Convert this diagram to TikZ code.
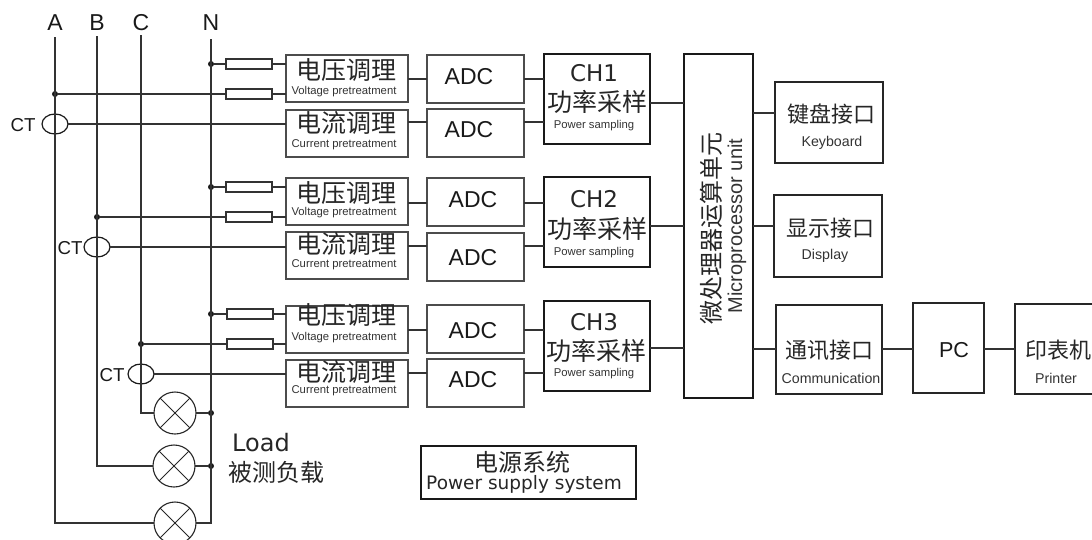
\documentclass[tikz,border=0pt]{standalone}
\usepackage{fontspec}
\setmainfont{Liberation Sans}
\newfontfamily\cjk{Noto Sans CJK SC}
\newfontfamily\dejavu{DejaVu Sans}
\usetikzlibrary{shapes.geometric}
\tikzset{
  wire/.style={line width=1.2pt,draw=black!80},
  vbox/.style={draw=black!70,line width=1.2pt,inner sep=0pt,outer sep=0pt,minimum width=122pt,minimum height=47pt},
  adcbox/.style={draw=black!70,line width=1.2pt,inner sep=0pt,outer sep=0pt,minimum width=97pt,minimum height=48pt},
  chbox/.style={draw=black!90,line width=1.3pt,inner sep=0pt,outer sep=0pt,minimum width=106pt,minimum height=90pt},
  portbox/.style={draw=black!85,line width=1.2pt,inner sep=0pt,outer sep=0pt,minimum width=108pt},
  res/.style={draw=black!80,line width=1.2pt,inner sep=0pt,outer sep=0pt,minimum width=46pt,minimum height=10pt},
  ctring/.style={ellipse,draw=black!90,line width=1.2pt,inner sep=0pt,outer sep=0pt,minimum width=26pt,minimum height=20pt},
  jdot/.style={circle,fill=black!90,inner sep=0pt,minimum size=6pt},
  lamp/.style={circle,draw=black!85,line width=1.1pt,inner sep=0pt,outer sep=0pt,minimum size=42pt,
    path picture={\draw[line width=1pt,draw=black!85] (path picture bounding box.north west) -- (path picture bounding box.south east)
      (path picture bounding box.north east) -- (path picture bounding box.south west);}},
  cntext/.style={inner sep=0pt,text=black!85,font=\cjk\fontsize{25}{25}\selectfont},
  cnport/.style={inner sep=0pt,text=black!85,font=\cjk\fontsize{22}{22}\selectfont},
  entiny/.style={inner sep=0pt,text=black!80,font=\fontsize{11.3}{12}\selectfont},
  ensmall/.style={inner sep=0pt,text=black!80,font=\fontsize{14.2}{15}\selectfont},
  latin/.style={inner sep=0pt,text=black!90,font=\fontsize{23}{24}\selectfont},
  djtext/.style={inner sep=0pt,text=black!85,font=\dejavu\fontsize{23}{24}\selectfont},
}
\begin{document}
\begin{tikzpicture}[x=1pt,y=-1pt]
\clip (0,0) rectangle (1092,539);

    \node[latin] (lblA) at (55,23) {A};
    \node[latin] (lblB) at (97,23) {B};
    \node[latin] (lblC) at (141,23) {C};
    \node[latin] (lblN) at (211,23) {N};

    \node[vbox] (v1) at (347,78.5) {};
    \node[vbox] (c1) at (347,133.5) {};
    \node[vbox] (v2) at (347,201.5) {};
    \node[vbox] (c2) at (347,255.5) {};
    \node[vbox] (v3) at (347,329.5) {};
    \node[vbox] (c3) at (347,383.5) {};

    \node[cntext] (v1cn) at (346,70) {电压调理};
    \node[entiny] (v1en) at (344,92) {Voltage pretreatment};
    \node[cntext] (c1cn) at (346,123) {电流调理};
    \node[entiny] (c1en) at (344,145) {Current pretreatment};
    \node[cntext] (v2cn) at (346,193) {电压调理};
    \node[entiny] (v2en) at (344,213) {Voltage pretreatment};
    \node[cntext] (c2cn) at (346,244) {电流调理};
    \node[entiny] (c2en) at (344,265) {Current pretreatment};
    \node[cntext] (v3cn) at (346,315) {电压调理};
    \node[entiny] (v3en) at (344,338) {Voltage pretreatment};
    \node[cntext] (c3cn) at (346,372) {电流调理};
    \node[entiny] (c3en) at (344,391) {Current pretreatment};

    \node[adcbox] (adc1) at (475.5,79) {};
    \node[adcbox] (adc2) at (475.5,133) {};
    \node[adcbox] (adc3) at (475.5,202) {};
    \node[adcbox] (adc4) at (475.5,257) {};
    \node[adcbox] (adc5) at (475.5,329) {};
    \node[adcbox] (adc6) at (475.5,383) {};

    \node[latin] (adc1t) at (469,77) {ADC};
    \node[latin] (adc2t) at (469,130) {ADC};
    \node[latin] (adc3t) at (473,200) {ADC};
    \node[latin] (adc4t) at (473,258) {ADC};
    \node[latin] (adc5t) at (473,331) {ADC};
    \node[latin] (adc6t) at (473,380) {ADC};

    \node[chbox] (ch1) at (597,99) {};
    \node[chbox] (ch2) at (597,222) {};
    \node[chbox] (ch3) at (597,346) {};

    \node[djtext] (ch1t) at (594,73) {CH1};
    \node[cntext] (ch1cn) at (597,102) {功率采样};
    \node[entiny] (ch1en) at (594,126) {Power sampling};
    \node[djtext] (ch2t) at (594,199) {CH2};
    \node[cntext] (ch2cn) at (597,229) {功率采样};
    \node[entiny] (ch2en) at (594,253) {Power sampling};
    \node[djtext] (ch3t) at (594,322) {CH3};
    \node[cntext] (ch3cn) at (596,351) {功率采样};
    \node[entiny] (ch3en) at (594,374) {Power sampling};

    \node[chbox,minimum width=69pt,minimum height=344pt] (mcu) at (718.5,226) {};
    \node[cntext,font=\cjk\fontsize{24}{24}\selectfont,rotate=90] (mcucn) at (711,228) {微处理器运算单元};
    \node[entiny,font=\fontsize{20}{20}\selectfont,rotate=90] (mcuen) at (737,226) {Microprocessor unit};

    \node[portbox,minimum height=81pt] (keyb) at (829,122.5) {};
    \node[portbox,minimum height=82pt] (disp) at (828,236) {};
    \node[portbox,minimum width=106pt,minimum height=89pt] (comm) at (829,349.5) {};
    \node[portbox,minimum width=71pt,minimum height=90pt] (pc) at (948.5,348) {};
    \node[portbox,minimum width=90pt,minimum height=90pt] (prn) at (1060,349) {};

    \node[cnport] (keybcn) at (831,114) {键盘接口};
    \node[ensmall] (keyben) at (832,143) {Keyboard};
    \node[cnport] (dispcn) at (830,228) {显示接口};
    \node[ensmall] (dispen) at (825,256) {Display};
    \node[cnport] (commcn) at (829,350) {通讯接口};
    \node[ensmall] (commen) at (831,378) {Communication};
    \node[latin,font=\fontsize{21.6}{22}\selectfont] (pct) at (954,350) {PC};
    \node[cnport] (prncn) at (1058,350) {印表机};
    \node[ensmall] (prnen) at (1056,378) {Printer};

    \node[res] (r1) at (249,64) {};
    \node[res] (r2) at (249,94) {};
    \node[res] (r3) at (249,187) {};
    \node[res] (r4) at (249,217) {};
    \node[res] (r5) at (250,314) {};
    \node[res] (r6) at (250,344) {};

    \node[jdot] (n1) at (211,64) {};
    \node[jdot] (a1) at (55,94) {};
    \node[jdot] (n2) at (211,187) {};
    \node[jdot] (b1) at (97,217) {};
    \node[jdot] (n3) at (211,314) {};
    \node[jdot] (c4) at (141,344) {};
    \node[jdot] (n4) at (211,413) {};
    \node[jdot] (n5) at (211,466) {};

    \node[ctring] (ct1) at (55,124) {};
    \node[ctring] (ct2) at (97,247) {};
    \node[ctring] (ct3) at (141,374) {};
    \node[latin,font=\fontsize{18.7}{19}\selectfont] (ct1t) at (23,125) {CT};
    \node[latin,font=\fontsize{18.7}{19}\selectfont] (ct2t) at (70,248) {CT};
    \node[latin,font=\fontsize{18.7}{19}\selectfont] (ct3t) at (112,375) {CT};

    \node[lamp] (lamp1) at (175,413) {};
    \node[lamp] (lamp2) at (174,466) {};
    \node[lamp] (lamp3) at (175,523) {};

    \node[djtext,font=\dejavu\fontsize{24}{24}\selectfont] (loadt) at (261,443) {Load};
    \node[cntext,font=\cjk\fontsize{24}{24}\selectfont] (loadcn) at (276,472) {被测负载};

    \node[draw=black!90,line width=1.2pt,inner sep=0pt,outer sep=0pt,minimum width=215pt,minimum height=53pt] (psu) at (528.5,472.5) {};
    \node[cntext,font=\cjk\fontsize{24}{24}\selectfont] (psucn) at (522,462) {电源系统};
    \node[djtext,font=\dejavu\fontsize{18.5}{19}\selectfont] (psuen) at (524,484) {Power supply system};
    \draw[line width=2.2pt,draw=black!90] (psu.north west) -- (psu.south west);
    \draw[line width=2.2pt,draw=black!90] (psu.north east) -- (psu.south east);

    \draw[wire] (lblA.south |- 0,37) |- (lamp3.west);
    \draw[wire] (lblB.south |- 0,36) |- (lamp2.west);
    \draw[wire] (lblC.south |- 0,35) |- (lamp1.west);
    \draw[wire] (lblN.south |- 0,39) |- (lamp3.east);
    \draw[wire] (lamp1.east) -- (n4);
    \draw[wire] (lamp2.east) -- (n5);

    \draw[wire] (n1) -- (r1);
    \draw[wire] (r1.east) -- (v1.west |- r1.east);
    \draw[wire] (a1) -- (r2);
    \draw[wire] (r2.east) -- (v1.west |- r2.east);
    \draw[wire] (n2) -- (r3);
    \draw[wire] (r3.east) -- (v2.west |- r3.east);
    \draw[wire] (b1) -- (r4);
    \draw[wire] (r4.east) -- (v2.west |- r4.east);
    \draw[wire] (n3) -- (r5);
    \draw[wire] (r5.east) -- (v3.west |- r5.east);
    \draw[wire] (c4) -- (r6);
    \draw[wire] (r6.east) -- (v3.west |- r6.east);

    \draw[wire] (ct1.east) -- (c1.west |- ct1.east);
    \draw[wire] (ct2.east) -- (c2.west |- ct2.east);
    \draw[wire] (ct3.east) -- (c3.west |- ct3.east);

    \draw[wire] (v1.east |- 0,79) -- (adc1.west |- 0,79);
    \draw[wire] (c1.east |- 0,122) -- (adc2.west |- 0,122);
    \draw[wire] (v2.east |- 0,203) -- (adc3.west |- 0,203);
    \draw[wire] (c2.east |- 0,246) -- (adc4.west |- 0,246);
    \draw[wire] (v3.east |- 0,330) -- (adc5.west |- 0,330);
    \draw[wire] (c3.east |- 0,373) -- (adc6.west |- 0,373);

    \draw[wire] (adc1.east |- 0,79) -- (ch1.west |- 0,79);
    \draw[wire] (adc2.east |- 0,122) -- (ch1.west |- 0,122);
    \draw[wire] (adc3.east |- 0,203) -- (ch2.west |- 0,203);
    \draw[wire] (adc4.east |- 0,246) -- (ch2.west |- 0,246);
    \draw[wire] (adc5.east |- 0,330) -- (ch3.west |- 0,330);
    \draw[wire] (adc6.east |- 0,373) -- (ch3.west |- 0,373);

    \draw[wire] (ch1.east |- 0,103) -- (mcu.west |- 0,103);
    \draw[wire] (ch2.east |- 0,226) -- (mcu.west |- 0,226);
    \draw[wire] (ch3.east |- 0,348) -- (mcu.west |- 0,348);

    \draw[wire] (mcu.east |- 0,113) -- (keyb.west |- 0,113);
    \draw[wire] (mcu.east |- 0,226) -- (disp.west |- 0,226);
    \draw[wire] (mcu.east |- 0,349) -- (comm.west |- 0,349);
    \draw[wire] (comm.east |- 0,349) -- (pc.west |- 0,349);
    \draw[wire] (pc.east |- 0,349) -- (prn.west |- 0,349);
\end{tikzpicture}
\end{document}
